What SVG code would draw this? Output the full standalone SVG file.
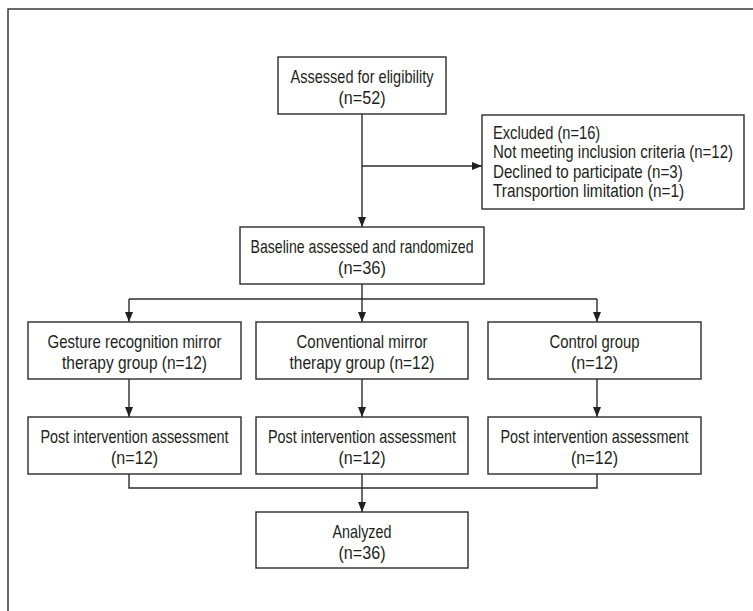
<svg xmlns="http://www.w3.org/2000/svg" width="753" height="611" viewBox="0 0 753 611">
<style>
.box{fill:#fff;stroke:#2b2b2b;stroke-width:1.4}
.t{font-family:"Liberation Sans",Arial,sans-serif;font-size:19px;fill:#231f20;text-anchor:middle}
.tl{font-family:"Liberation Sans",Arial,sans-serif;font-size:19px;fill:#231f20}
.c{fill:none;stroke:#2b2b2b;stroke-width:1.4}
</style>
<defs>
<marker id="ah" markerUnits="userSpaceOnUse" markerWidth="10" markerHeight="10" viewBox="0 0 10 10" refX="10" refY="5" orient="auto">
<path d="M0,1 L10,5 L0,9 Z" fill="#231f20"/>
</marker>
</defs>
<rect x="0" y="0" width="753" height="611" fill="#fff"/>
<rect x="8" y="9" width="820" height="700" fill="none" stroke="#2b2b2b" stroke-width="1.4"/>
<g id="connectors">
<line class="c" x1="362" y1="114" x2="362" y2="227" marker-end="url(#ah)"/>
<line class="c" x1="362" y1="166" x2="482" y2="166" marker-end="url(#ah)"/>
<line class="c" x1="362" y1="284" x2="362" y2="322" marker-end="url(#ah)"/>
<line class="c" x1="129" y1="299" x2="597" y2="299"/>
<line class="c" x1="129" y1="299" x2="129" y2="322" marker-end="url(#ah)"/>
<line class="c" x1="597" y1="299" x2="597" y2="322" marker-end="url(#ah)"/>
<line class="c" x1="129" y1="379" x2="129" y2="417" marker-end="url(#ah)"/>
<line class="c" x1="362" y1="379" x2="362" y2="417" marker-end="url(#ah)"/>
<line class="c" x1="597" y1="379" x2="597" y2="417" marker-end="url(#ah)"/>
<path class="c" d="M129,474 V488 H597 V474"/>
<line class="c" x1="362" y1="474" x2="362" y2="512" marker-end="url(#ah)"/>
</g>
<g id="assessed">
<rect class="box" x="278" y="57" width="168" height="57"/>
<text class="t" x="362" y="83" textLength="143" lengthAdjust="spacingAndGlyphs">Assessed for eligibility</text>
<text class="t" x="362" y="104" textLength="47" lengthAdjust="spacingAndGlyphs">(n=52)</text>
</g>
<g id="excluded">
<rect class="box" x="482" y="115" width="262" height="94"/>
<g transform="matrix(0.75 0 0 1 493 0)">
<text class="tl" x="0" y="139" textLength="143" lengthAdjust="spacingAndGlyphs">Excluded (n=16)</text>
<text class="tl" x="0" y="158.5" textLength="320" lengthAdjust="spacingAndGlyphs">Not meeting inclusion criteria (n=12)</text>
<text class="tl" x="0" y="178" textLength="253" lengthAdjust="spacingAndGlyphs">Declined to participate (n=3)</text>
<text class="tl" x="0" y="197.5" textLength="255" lengthAdjust="spacingAndGlyphs">Transportion limitation (n=1)</text>
</g>
</g>
<g id="baseline">
<rect class="box" x="240" y="227" width="244" height="57"/>
<text class="t" x="362" y="253" textLength="223" lengthAdjust="spacingAndGlyphs">Baseline assessed and randomized</text>
<text class="t" x="362" y="274" textLength="48" lengthAdjust="spacingAndGlyphs">(n=36)</text>
</g>
<g id="gesture">
<rect class="box" x="28" y="322" width="213" height="57"/>
<text class="t" x="134.5" y="348" textLength="174" lengthAdjust="spacingAndGlyphs">Gesture recognition mirror</text>
<text class="t" x="134.5" y="369" textLength="145" lengthAdjust="spacingAndGlyphs">therapy group (n=12)</text>
</g>
<g id="conventional">
<rect class="box" x="256" y="322" width="212" height="57"/>
<text class="t" x="362" y="348" textLength="131" lengthAdjust="spacingAndGlyphs">Conventional mirror</text>
<text class="t" x="362" y="369" textLength="145" lengthAdjust="spacingAndGlyphs">therapy group (n=12)</text>
</g>
<g id="control">
<rect class="box" x="488" y="322" width="213" height="57"/>
<text class="t" x="594.5" y="348" textLength="90" lengthAdjust="spacingAndGlyphs">Control group</text>
<text class="t" x="594.5" y="369" textLength="47" lengthAdjust="spacingAndGlyphs">(n=12)</text>
</g>
<g id="post1">
<rect class="box" x="28" y="417" width="213" height="57"/>
<text class="t" x="134.5" y="443" textLength="188" lengthAdjust="spacingAndGlyphs">Post intervention assessment</text>
<text class="t" x="134.5" y="464" textLength="47" lengthAdjust="spacingAndGlyphs">(n=12)</text>
</g>
<g id="post2">
<rect class="box" x="256" y="417" width="212" height="57"/>
<text class="t" x="362" y="443" textLength="188" lengthAdjust="spacingAndGlyphs">Post intervention assessment</text>
<text class="t" x="362" y="464" textLength="47" lengthAdjust="spacingAndGlyphs">(n=12)</text>
</g>
<g id="post3">
<rect class="box" x="488" y="417" width="213" height="57"/>
<text class="t" x="594.5" y="443" textLength="188" lengthAdjust="spacingAndGlyphs">Post intervention assessment</text>
<text class="t" x="594.5" y="464" textLength="47" lengthAdjust="spacingAndGlyphs">(n=12)</text>
</g>
<g id="analyzed">
<rect class="box" x="256" y="512" width="212" height="56"/>
<text class="t" x="362" y="538" textLength="59" lengthAdjust="spacingAndGlyphs">Analyzed</text>
<text class="t" x="362" y="559" textLength="47" lengthAdjust="spacingAndGlyphs">(n=36)</text>
</g>
</svg>
